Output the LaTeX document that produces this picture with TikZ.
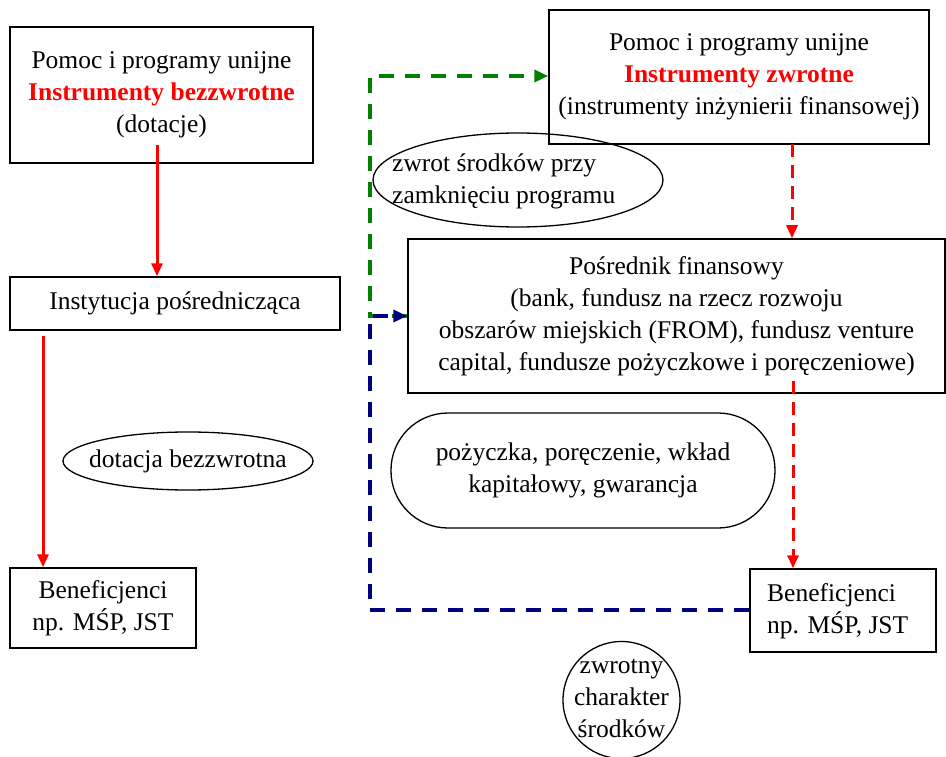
\documentclass[tikz,border=0pt]{standalone}
\usepackage{fontspec}
\setmainfont{Liberation Serif}
\usetikzlibrary{arrows.meta,shapes.geometric}
\definecolor{dgreen}{HTML}{008000}
\definecolor{dblue}{HTML}{000080}
\begin{document}
\begin{tikzpicture}[x=1pt,y=-1pt,
  every node/.style={font=\fontsize{25.5}{32}\selectfont, inner sep=0pt},
  box/.style={draw, line width=1.5pt, align=center},
  outline/.style={draw, line width=1.3pt},
  redsolid/.style={red, line width=3pt, -{Triangle[length=13pt,width=11pt]}},
  reddash/.style={red, line width=3pt, dash pattern=on 13pt off 8pt, -{Triangle[length=13pt,width=11pt]}},
  greendash/.style={dgreen, line width=3.5pt, dash pattern=on 15pt off 11pt, -{Triangle[length=14pt,width=12pt]}},
  bluedash/.style={dblue, line width=3.5pt, dash pattern=on 15pt off 11pt, -{Triangle[length=14pt,width=12pt]}}
]
\useasboundingbox (0,0) rectangle (946,757);

% left column
\node[box, minimum width=303pt, minimum height=136pt] (A) at (161.5,95)
  {Pomoc i programy unijne\\\textbf{\color{red}Instrumenty bezzwrotne}\\(dotacje)};
\node[box, minimum width=330pt, minimum height=53pt] (B) at (175,303.5)
  {Instytucja pośrednicząca};
\node[box, minimum width=186pt, minimum height=80pt] (C) at (103,608)
  {Beneficjenci\\np. MŚP, JST};
\node (E1) at (188,461) {dotacja bezzwrotna};
\draw[outline] (E1.center) ellipse [x radius=125pt, y radius=29pt];

% right column
\node[box, minimum width=380pt, minimum height=134pt] (D) at (739,77)
  {Pomoc i programy unijne\\\textbf{\color{red}Instrumenty zwrotne}\\(instrumenty inżynierii finansowej)};
\node[box, minimum width=537pt, minimum height=154pt] (E) at (676.5,316)
  {Pośrednik finansowy\\(bank, fundusz na rzecz rozwoju\\obszarów miejskich (FROM), fundusz venture\\capital, fundusze pożyczkowe i poręczeniowe)};
\node[box, minimum width=186pt, minimum height=83pt] (F) at (843,610.5) {};
\node[anchor=west, align=left] (Ft) at (767,611) {Beneficjenci\\np. MŚP, JST};

\coordinate (E2c) at (518,180);
\node[anchor=west, align=left] (E2) at (392,181)
  {zwrot środków przy\\zamknięciu programu};
\draw[outline] (E2c) ellipse [x radius=145pt, y radius=47pt];
\node[draw, line width=1.3pt, rounded corners=57pt, minimum width=384pt, minimum height=115pt, align=center] (P) at (583,470.5)
  {pożyczka, poręczenie, wkład\\kapitałowy, gwarancja};
\node[align=center] (K) at (621.5,698)
  {zwrotny\\charakter\\środków};
\draw[outline] (621.5,700) circle [radius=58.5pt];

% connectors
\coordinate (a1) at (157,145);
\coordinate (b1) at (43,336);
\draw[redsolid] (a1) -- (a1 |- B.north);
\draw[redsolid] (b1) -- (b1 |- C.north);

\coordinate (d1) at (792,144);
\coordinate (e1) at (793,381);
\draw[reddash] (d1) -- (d1 |- E.north);
\draw[reddash] (e1) -- (e1 |- F.north);

\coordinate (g1) at (370,316);
\coordinate (g2) at (370,76);
\coordinate (bl1) at (370,610);
\draw[greendash] (E.west) -- (g1) -- (g2) -- (g2 -| D.west);
\draw[bluedash] (F.west |- bl1) -- (bl1) -- (g1) -- (E.west);
\end{tikzpicture}
\end{document}
